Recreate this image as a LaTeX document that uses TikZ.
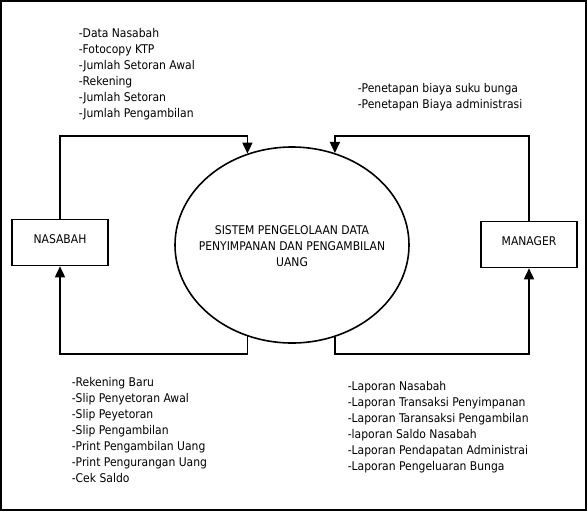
\documentclass[tikz,border=0pt]{standalone}
\usepackage{fontspec}
\usepackage{tikz}
\usetikzlibrary{arrows.meta}
\usetikzlibrary{shapes.geometric}
\newfontfamily\dfdfont{DejaVu Sans Condensed}
\newcommand{\dfdsize}{\dfdfont\fontsize{12}{16}\selectfont}

\begin{document}
\begin{tikzpicture}[x=1pt,y=-1pt,line width=1.6pt]

\tikzstyle{every node}=[font=\dfdsize, inner sep=0pt]
\tikzstyle{entity}=[draw, rectangle, minimum width=96pt, minimum height=46pt, text height=9pt, text depth=8pt]
\tikzstyle{process}=[draw, ellipse, minimum width=234pt, minimum height=196pt]
\tikzstyle{flowtext}=[anchor=north west, align=left]
\tikzstyle{dataflow}=[-{Triangle[width=10pt,length=11pt]}]

\def\topline{(0,136) coordinate (topline)}
\def\botline{(0,354) coordinate (botline)}

\useasboundingbox (0,0) rectangle (588,512);
\draw[line width=2pt] (1,1) rectangle (585.5,510);

\path \topline;
\path \botline;

\node[process] (sistem) at (292,245) {};
\node[align=center] (sistemtext) at (292,246) {SISTEM PENGELOLAAN DATA\\PENYIMPANAN DAN PENGAMBILAN\\UANG};
\node[entity] (nasabah) at (60,242.5) {NASABAH};
\node[entity] (manager) at (529,244.5) {MANAGER};

\node[flowtext] (innasabah) at (78,28) {-Data Nasabah\\-Fotocopy KTP\\-Jumlah Setoran Awal\\-Rekening\\-Jumlah Setoran\\-Jumlah Pengambilan};
\node[flowtext] (inmanager) at (357,83) {-Penetapan biaya suku bunga\\-Penetapan Biaya administrasi};
\node[flowtext] (outnasabah) at (71,377) {-Rekening Baru\\-Slip Penyetoran Awal\\-Slip Peyetoran\\-Slip Pengambilan\\-Print Pengambilan Uang\\-Print Pengurangan Uang\\-Cek Saldo};
\node[flowtext] (outmanager) at (347,381) {-Laporan Nasabah\\-Laporan Transaksi Penyimpanan\\-Laporan Taransaksi Pengambilan\\-laporan Saldo Nasabah\\-Laporan Pendapatan Administrai\\-Laporan Pengeluaran Bunga};

\draw[dataflow] (nasabah.north) |- (topline -| sistem.116) -- (sistem.116);
\draw[dataflow] (manager.north) |- (topline -| sistem.65) -- (sistem.65);
\draw[dataflow] (sistem.244) -- (sistem.244 |- botline) -| (nasabah.south);
\draw[dataflow] (sistem.295) -- (sistem.295 |- botline) -| (manager.south);
\end{tikzpicture}
\end{document}
